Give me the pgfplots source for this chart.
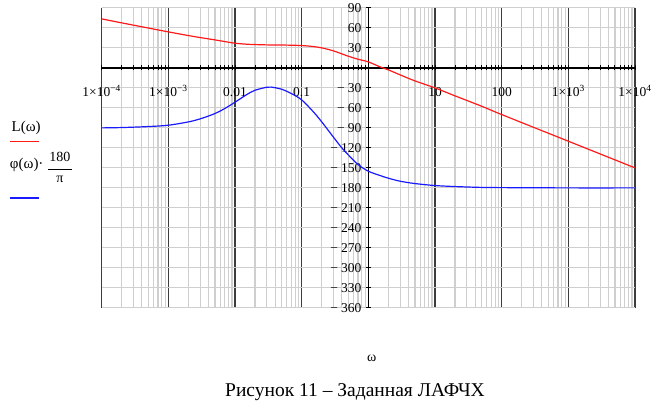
\documentclass[border=0pt]{standalone}
\usepackage{fontspec}
\setmainfont{Liberation Serif}
\usepackage{pgfplots}
\pgfplotsset{compat=1.18}
\definecolor{gridgray}{HTML}{CFCFCF}
\definecolor{decgray}{HTML}{3C3C3C}
\definecolor{lred}{HTML}{FF1A1A}
\definecolor{lblue}{HTML}{1A1AFF}
\newcommand{\mn}{−\hspace{3pt}}
\begin{document}
\begin{tikzpicture}
\begin{axis}[
  at={(0pt,0pt)}, anchor=south west,
  scale only axis, width=533.3pt, height=300pt,
  xmode=log, xmin=1e-4, xmax=1e4, ymin=-360, ymax=90,
  axis x line=middle, axis y line=middle,
  axis line style={-, black, line width=1.3pt},
  xtick={1e-4,1e-3,1e-2,1e-1,1,10,100,1000,10000},
  xticklabels={1×10\textsuperscript{−4},1×10\textsuperscript{−3},0.01,0.1,1,10,100,1×10\textsuperscript{3},1×10\textsuperscript{4}},
  ytick={-360,-330,-300,-270,-240,-210,-180,-150,-120,-90,-60,-30,0,30,60,90},
  yticklabels={\mn 360,\mn 330,\mn 300,\mn 270,\mn 240,\mn 210,\mn 180,\mn 150,\mn 120,\mn 90,\mn 60,\mn 30,{},30,60,90},
  grid=both,
  major x grid style={draw=decgray, line width=1.3pt},
  minor x grid style={draw=gridgray, line width=1.2pt},
  major y grid style={draw=gridgray, line width=1.2pt},
  tick style={black, line width=0.9pt},
  major tick length=5pt, minor tick length=5pt,
  xticklabel style={font=\fontsize{13.5}{13.5}\selectfont, anchor=base, yshift=-26pt},
  yticklabel style={font=\fontsize{13.5}{13.5}\selectfont, anchor=east, xshift=-1pt},
]
\addplot[lred, line width=1.2pt, smooth] coordinates {
(1e-4,73.5) (2e-4,67.5) (5e-4,59.8) (1e-3,54) (2e-3,48.5) (3e-3,45.5)
(5e-3,42) (7e-3,39.5) (1e-2,37) (1.5e-2,35.5) (2e-2,35) (3e-2,34.5)
(5e-2,34.3) (7e-2,34) (0.1,33.5) (0.15,32) (0.2,30) (0.3,25.5)
(0.5,17.5) (0.7,13) (1,9) (1.5,1.5) (2,-3) (3,-10.5) (5,-19.5)
(10,-30) (20,-42) (50,-57.5) (100,-70) (1000,-110) (10000,-150)
};
\addplot[lblue, line width=1.2pt, smooth] coordinates {
(1e-4,-90) (2e-4,-89.5) (5e-4,-88) (1e-3,-86) (2e-3,-81) (3e-3,-76.5)
(5e-3,-68.5) (7e-3,-61) (1e-2,-51.5) (1.5e-2,-40) (2e-2,-33.5) (3e-2,-29)
(3.5e-2,-28.8) (5e-2,-32) (7e-2,-38.5) (0.1,-48) (0.15,-66) (0.2,-81)
(0.3,-104) (0.4,-120) (0.5,-130.5) (0.7,-145) (1,-155) (1.5,-161.5)
(2,-165.5) (3,-170) (5,-173.5) (10,-176.5) (20,-178) (50,-179.3)
(100,-179.6) (1000,-180) (10000,-180)
};
\end{axis}
% legend
\node[font=\fontsize{15}{15}\selectfont, inner sep=0pt] at (-75.5pt,180pt) {L(ω)};
\draw[lred, line width=1.3pt] (-91.7pt,166.7pt) -- (-63pt,166.7pt);
\node[font=\fontsize{15}{15}\selectfont, inner sep=0pt, anchor=east] at (-58pt,143.3pt) {φ(ω)·};
\node[font=\fontsize{14}{14}\selectfont, inner sep=0pt] at (-41.7pt,150.5pt) {180};
\draw[black, line width=0.7pt] (-53.7pt,139pt) -- (-29.7pt,139pt);
\node[font=\fontsize{14}{14}\selectfont, inner sep=0pt] at (-41.7pt,129pt) {π};
\draw[lblue, line width=1.3pt] (-91.7pt,110pt) -- (-63pt,110pt);
% axis label and caption
\node[font=\fontsize{14}{14}\selectfont, inner sep=0pt] at (270pt,-50pt) {ω};
\node[font=\fontsize{19.5}{19.5}\selectfont, inner sep=0pt] at (253.3pt,-84pt) {Рисунок 11 – Заданная ЛАФЧХ};
\path[use as bounding box] (-101.7pt,-93pt) rectangle (557.3pt,305pt);
\end{tikzpicture}
\end{document}
